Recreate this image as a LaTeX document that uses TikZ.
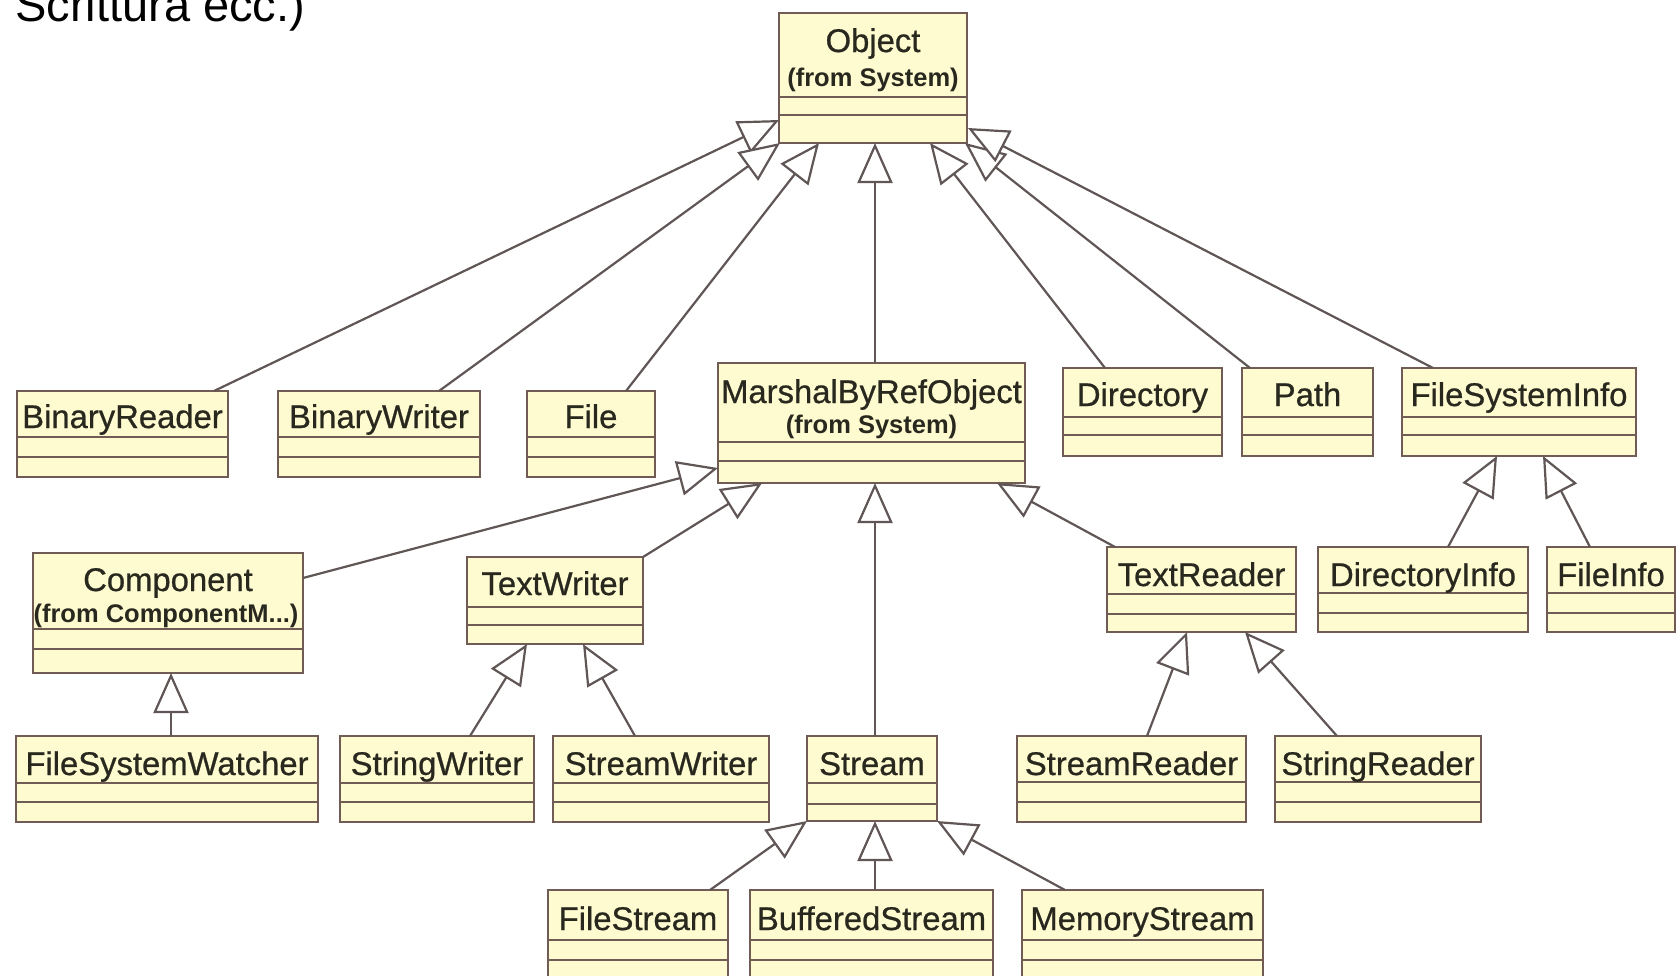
\documentclass[tikz,border=0pt]{standalone}
\usepackage{fontspec}
\setmainfont{Liberation Sans}
\newfontfamily\classfont{Liberation Sans}[FakeBold=0.7]
\usetikzlibrary{arrows.meta,calc,fit}

\definecolor{classfill}{RGB}{255,251,208}
\definecolor{classline}{RGB}{112,92,84}
\definecolor{classtext}{RGB}{40,40,30}
\definecolor{linkline}{RGB}{96,86,86}

\tikzset{
  cls/.style={draw=classline, fill=classfill, line width=2.6pt, inner sep=0pt, outer sep=0pt},
  divider/.style={draw=classline, line width=2.4pt},
  lbl/.style={text=classtext, inner sep=0pt, anchor=base, font=\classfont\fontsize{32.8}{35}\selectfont},
  sublbl/.style={text=classtext, inner sep=0pt, anchor=base, font=\bfseries\fontsize{25.5}{27}\selectfont},
  inherit/.style={draw=linkline, line width=2.2pt,
    -{Triangle[length=40pt, width=35pt, fill=white]}},
}

% class box: name, x1, y1, x2, y2, first divider, second divider
\newcommand\umlclass[7]{%
  \coordinate (#1-nw) at (#2,#3);
  \coordinate (#1-se) at (#4,#5);
  \node[cls, fit=(#1-nw)(#1-se)] (#1) {};
  \draw[divider] (#2,#6) -- (#4,#6);
  \draw[divider] (#2,#7) -- (#4,#7);
}

\begin{document}
\begin{tikzpicture}[x=1pt, y=-1pt]
\useasboundingbox (0,0) rectangle (1678,975);
\fill[white] (0,0) rectangle (1678,975);

\node[anchor=base west, inner sep=0pt, font=\fontsize{47}{50}\selectfont] (heading) at (15,21) {Scrittura ecc.)};

% classes
\umlclass{Object}{779}{13}{967}{143}{97}{115}
\node[lbl] (Object-t) at (873,52) {Object};
\node[sublbl] (Object-s) at (873,86) {(from System)};

\umlclass{BinaryReader}{17}{391}{228}{477}{437}{457}
\node[lbl] (BinaryReader-t) at (122.5,428) {BinaryReader};
\umlclass{BinaryWriter}{278}{391}{480}{477}{437}{457}
\node[lbl] (BinaryWriter-t) at (379,428) {BinaryWriter};
\umlclass{File}{527}{391}{655}{477}{437}{457}
\node[lbl] (File-t) at (591,428) {File};

\umlclass{MBRO}{718}{363}{1025}{483}{442}{461}
\node[lbl] (MBRO-t) at (871.5,403) {MarshalByRefObject};
\node[sublbl] (MBRO-s) at (871.5,433) {(from System)};

\umlclass{Directory}{1063}{368}{1222}{456}{417}{435}
\node[lbl] (Directory-t) at (1142.5,406) {Directory};
\umlclass{Path}{1242}{368}{1373}{456}{417}{435}
\node[lbl] (Path-t) at (1307.5,406) {Path};
\umlclass{FSI}{1402}{368}{1636}{456}{417}{435}
\node[lbl] (FSI-t) at (1519,406) {FileSystemInfo};

\umlclass{Component}{33}{553}{303}{673}{629}{649}
\node[lbl] (Component-t) at (168,591) {Component};
\node[sublbl] (Component-s) at (166,622) {(from ComponentM...)};

\umlclass{TextWriter}{467}{557}{643}{644}{607}{625}
\node[lbl] (TextWriter-t) at (555,595) {TextWriter};
\umlclass{TextReader}{1107}{547}{1296}{632}{594}{614}
\node[lbl] (TextReader-t) at (1201.5,586) {TextReader};
\umlclass{DirectoryInfo}{1318}{547}{1528}{632}{593}{613}
\node[lbl] (DirectoryInfo-t) at (1423,586) {DirectoryInfo};
\umlclass{FileInfo}{1547}{547}{1675}{632}{593}{613}
\node[lbl] (FileInfo-t) at (1611,586) {FileInfo};

\umlclass{FSW}{16}{736}{318}{822}{783}{802}
\node[lbl] (FSW-t) at (167,775) {FileSystemWatcher};
\umlclass{StringWriter}{340}{736}{534}{822}{783}{802}
\node[lbl] (StringWriter-t) at (437,775) {StringWriter};
\umlclass{StreamWriter}{553}{736}{769}{822}{783}{802}
\node[lbl] (StreamWriter-t) at (661,775) {StreamWriter};
\umlclass{Stream}{807}{736}{937}{821}{783}{804}
\node[lbl] (Stream-t) at (872,775) {Stream};
\umlclass{StreamReader}{1017}{736}{1246}{822}{782}{802}
\node[lbl] (StreamReader-t) at (1131.5,775) {StreamReader};
\umlclass{StringReader}{1275}{736}{1481}{822}{782}{802}
\node[lbl] (StringReader-t) at (1378,775) {StringReader};

\umlclass{FileStream}{548}{890}{728}{1000}{940}{960}
\node[lbl] (FileStream-t) at (638,930) {FileStream};
\umlclass{BufferedStream}{750}{890}{993}{1000}{940}{960}
\node[lbl] (BufferedStream-t) at (871.5,930) {BufferedStream};
\umlclass{MemoryStream}{1022}{890}{1263}{1000}{940}{960}
\node[lbl] (MemoryStream-t) at (1142.5,930) {MemoryStream};

% generalisations towards Object
\draw[inherit] ($(BinaryReader.north west)+(197,0)$) -- ($(Object.north west)+(0,107)$);
\draw[inherit] ($(BinaryWriter.north west)+(161,0)$) -- ($(Object.south west)+(1,0)$);
\draw[inherit] ($(File.north west)+(99,0)$) -- ($(Object.south west)+(40,0)$);
\draw[inherit] ($(MBRO.north west)+(157,0)$) -- ($(Object.south west)+(96,0)$);
\draw[inherit] ($(Directory.north west)+(42,0)$) -- ($(Object.south west)+(151,0)$);
\draw[inherit] ($(Path.north west)+(8,0)$) -- ($(Object.south east)+(-2,0)$);
\draw[inherit] ($(FSI.north west)+(31,0)$) -- ($(Object.north east)+(1,115)$);

% generalisations towards MarshalByRefObject
\draw[inherit] ($(Component.north west)+(270,25)$) -- ($(MBRO.north west)+(0,105)$);
\draw[inherit] (TextWriter.north east) -- ($(MBRO.south west)+(44,0)$);
\draw[inherit] ($(Stream.north west)+(68,0)$) -- ($(MBRO.south west)+(157,0)$);
\draw[inherit] ($(TextReader.north west)+(8,0)$) -- ($(MBRO.south east)+(-28,0)$);

% remaining hierarchies
\draw[inherit] ($(FSW.north west)+(155,0)$) -- ($(Component.south west)+(138,0)$);
\draw[inherit] ($(StringWriter.north west)+(130,0)$) -- ($(TextWriter.south west)+(60,0)$);
\draw[inherit] ($(StreamWriter.north west)+(82,0)$) -- ($(TextWriter.south west)+(116,0)$);
\draw[inherit] ($(StreamReader.north west)+(130,0)$) -- ($(TextReader.south west)+(80,0)$);
\draw[inherit] ($(StringReader.north west)+(62,0)$) -- ($(TextReader.south west)+(138,0)$);
\draw[inherit] ($(DirectoryInfo.north west)+(130,0)$) -- ($(FSI.south west)+(95,0)$);
\draw[inherit] ($(FileInfo.north west)+(43,0)$) -- ($(FSI.south west)+(141,0)$);
\draw[inherit] ($(FileStream.north west)+(162,0)$) -- (Stream.south west);
\draw[inherit] ($(BufferedStream.north west)+(125,0)$) -- ($(Stream.south west)+(68,0)$);
\draw[inherit] ($(MemoryStream.north west)+(43,0)$) -- (Stream.south east);
\end{tikzpicture}
\end{document}
